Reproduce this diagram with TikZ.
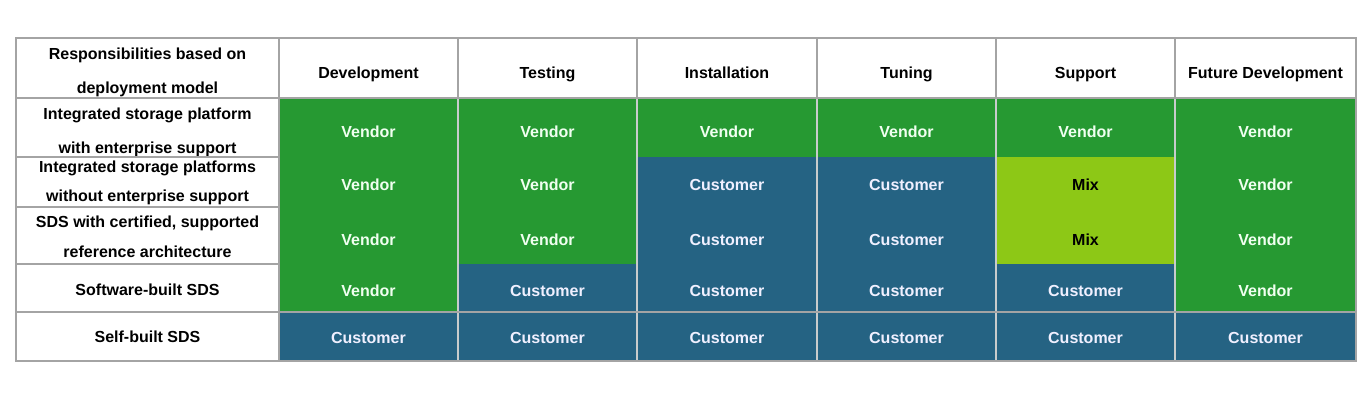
\documentclass[tikz,border=0pt]{standalone}
\usepackage{fontspec}
\setmainfont{Liberation Sans}
\definecolor{vgreen}{HTML}{269932}
\definecolor{cblue}{HTML}{256383}
\definecolor{mlime}{HTML}{8DC816}
\definecolor{gridgray}{HTML}{A4A4A4}
\definecolor{seam}{HTML}{C8CCCC}
\def\wordvend{Vendor}
\def\wordcust{Customer}
\def\wordmixc{Mix}
\tikzset{
  cellbase/.style={rectangle, inner sep=0pt, outer sep=0pt},
  hdr/.style={cellbase, fill=white},
  vend/.style={cellbase, fill=vgreen},
  cust/.style={cellbase, fill=cblue},
  mixc/.style={cellbase, fill=mlime},
  txtbase/.style={inner sep=0pt, anchor=base, font=\fontsize{16}{19}\selectfont\bfseries},
  hdrT/.style={txtbase, text=black},
  vendT/.style={txtbase, text=white!94!green},
  custT/.style={txtbase, text=white!94!blue},
  mixcT/.style={txtbase, text=black},
  seamline/.style={draw=seam, line width=1.6pt},
  gridline/.style={draw=gridgray, line width=1.8pt},
}
\begin{document}
\begin{tikzpicture}[x=1pt,y=-1pt]
\useasboundingbox (0,0) rectangle (1370,407);
% ---- left label column ----
\node[hdr, minimum width=263pt, minimum height=60pt] (L0) at (147.5,68) {};
\node[hdrT] (L0a) at (147.5,59) {Responsibilities based on};
\node[hdrT] (L0b) at (147.5,93) {deployment model};
\node[hdr, minimum width=263pt, minimum height=59pt] (L1) at (147.5,127.5) {};
\node[hdrT] (L1a) at (147.5,119) {Integrated storage platform};
\node[hdrT] (L1b) at (147.5,153) {with enterprise support};
\node[hdr, minimum width=263pt, minimum height=50pt] (L2) at (147.5,182) {};
\node[hdrT] (L2a) at (147.5,172) {Integrated storage platforms};
\node[hdrT] (L2b) at (147.5,201) {without enterprise support};
\node[hdr, minimum width=263pt, minimum height=57pt] (L3) at (147.5,235.5) {};
\node[hdrT] (L3a) at (147.5,227) {SDS with certified, supported};
\node[hdrT] (L3b) at (147.5,257.5) {reference architecture};
\node[hdr, minimum width=263pt, minimum height=48pt] (L4) at (147.5,288) {};
\node[hdrT] (L4a) at (147.5,295) {Software-built SDS};
\node[hdr, minimum width=263pt, minimum height=49pt] (L5) at (147.5,336.5) {};
\node[hdrT] (L5a) at (147.5,342) {Self-built SDS};
% ---- column headers ----
\foreach \t [count=\i] in {Development,Testing,Installation,Tuning,Support,Future Development}{
  \pgfmathsetmacro\cx{{368.5,547.5,727,906.5,1085.5,1265.5}[\i-1]}
  \pgfmathsetmacro\w{{179,179,180,179,179,181}[\i-1]}
  \node[hdr, minimum width=\w pt, minimum height=60pt] (H\i) at (\cx,68) {};
  \node[hdrT] (HT\i) at (\cx,78) {\t};
}
% ---- body cells ----
\foreach \r/\cy/\h/\b/\lst in {
  1/127.5/59/137/{vend,vend,vend,vend,vend,vend},
  2/182/50/190/{vend,vend,cust,cust,mixc,vend},
  3/235.5/57/245/{vend,vend,cust,cust,mixc,vend},
  4/288/48/296/{vend,cust,cust,cust,cust,vend},
  5/336.5/49/343/{cust,cust,cust,cust,cust,cust}}{
  \foreach \s [count=\i] in \lst {
    \pgfmathsetmacro\cx{{368.5,547.5,727,906.5,1085.5,1265.5}[\i-1]}
    \pgfmathsetmacro\w{{179,179,180,179,179,181}[\i-1]}
    \node[\s, minimum width=\w pt, minimum height=\h pt] (C\r-\i) at (\cx,\cy) {};
    \node[\s T] (T\r-\i) at (\cx,\b) {\csname word\s\endcsname};
  }
}
% seams between coloured columns
\foreach \x in {458,637,817,996,1175}
  \draw[seamline] (\x,98) -- (\x,361);
% grey grid
\draw[gridline] (16,38) rectangle (1356,361);
\foreach \x in {458,637,817,996,1175}
  \draw[gridline] (\x,38) -- (\x,98);
\draw[gridline] (279,38) -- (279,361);
\draw[gridline] (16,98) -- (1356,98);
\foreach \y in {157,207,264,312}
  \draw[gridline] (16,\y) -- (279,\y);
\draw[gridline] (279,312) -- (1356,312);
\end{tikzpicture}
\end{document}
